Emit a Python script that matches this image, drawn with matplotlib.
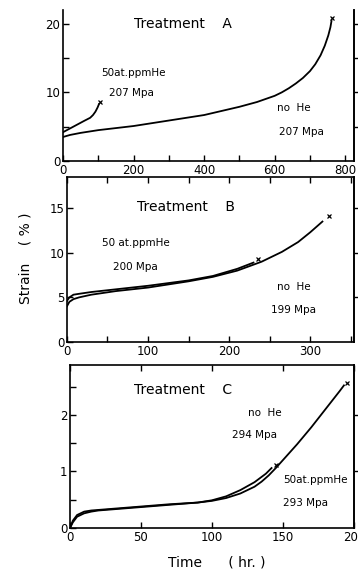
"""
Creep strain vs time for three treatments, with and without 50 at.ppm He.
Redrawn from a scanned figure.
"""

import numpy as np
import matplotlib
matplotlib.use('Agg')
import matplotlib.pyplot as plt

### Data (time in hr, strain in %)
a_nohe_t = [0, 20, 50, 100, 150, 200, 250, 300, 350, 400, 450, 500, 550, 600,
            620, 640, 660, 680, 700, 715, 730, 742, 752, 758, 761]
a_nohe_s = [3.5, 3.8, 4.1, 4.5, 4.8, 5.1, 5.5, 5.9, 6.3, 6.7, 7.3, 7.9, 8.6, 9.5,
            10.0, 10.6, 11.3, 12.1, 13.1, 14.1, 15.4, 16.8, 18.3, 19.5, 20.4]
a_nohe_end = (763, 20.9)
a_he_t = [0, 20, 40, 60, 77, 85, 92, 98, 102]
a_he_s = [4.2, 4.75, 5.3, 5.85, 6.3, 6.7, 7.2, 7.8, 8.3]
a_he_end = (105, 8.6)

b_nohe_t = [0, 3, 8, 15, 30, 60, 100, 150, 180, 210, 240, 265, 285, 300, 315]
b_nohe_s = [4.0, 4.5, 4.8, 5.0, 5.3, 5.7, 6.1, 6.8, 7.3, 8.0, 9.0, 10.1, 11.2,
            12.3, 13.5]
b_nohe_end = (323, 14.1)
b_he_t = [0, 3, 8, 15, 30, 60, 100, 150, 180, 210, 230]
b_he_s = [4.6, 5.0, 5.3, 5.4, 5.6, 5.9, 6.3, 6.9, 7.4, 8.2, 8.9]
b_he_end = (236, 9.3)

c_nohe_t = [0, 2, 5, 10, 15, 20, 30, 50, 70, 90, 100, 110, 120, 130, 135, 140,
            145, 150, 160, 170, 180, 190, 193]
c_nohe_s = [0, 0.1, 0.2, 0.26, 0.29, 0.31, 0.33, 0.37, 0.41, 0.45, 0.48, 0.53,
            0.61, 0.73, 0.82, 0.93, 1.06, 1.2, 1.48, 1.78, 2.1, 2.42, 2.52]
c_nohe_end = (195, 2.56)
c_he_t = [0, 2, 5, 10, 15, 20, 30, 50, 70, 90, 100, 110, 120, 130, 138, 142]
c_he_s = [0, 0.13, 0.23, 0.29, 0.31, 0.32, 0.34, 0.38, 0.42, 0.45, 0.49, 0.56,
          0.67, 0.81, 0.96, 1.06]
c_he_end = (145, 1.12)

plt.rc('font', family='DejaVu Sans')

fig = plt.figure(figsize=(3.58, 5.69), dpi=100)

def style_axes(ax, xlim, ylim, xmaj, xmin, ymaj, ymin, rticks, top=True):
    ax.set_xlim(xlim)
    ax.set_ylim(ylim)
    ax.set_xticks(xmaj)
    ax.set_xticks(xmin, minor=True)
    ax.set_yticks(ymaj)
    ax.set_yticks(ymin, minor=True)
    ax.tick_params(which='both', direction='in', labelsize=8.5, width=1,
                   top=top, right=False, pad=2, length=4)
    for loc, sp in ax.spines.items():
        sp.set_linewidth(1.2)
    ax.spines['top'].set_visible(top)
    ### right side ticks point outward
    ax2 = ax.twinx()
    ax2.set_ylim(ylim)
    ax2.set_yticks(rticks)
    ax2.tick_params(direction='out', length=4, width=1, labelright=False)
    ax2.spines['right'].set_linewidth(1.2)
    for loc in ['top', 'left', 'bottom']:
        ax2.spines[loc].set_visible(False)
    return ax

def draw(ax, t, s, end):
    ax.plot(t, s, color='k', linewidth=1.3)
    ax.plot(end[0], end[1], marker='x', color='k', markersize=3, mew=0.9)

fs = 7.5

### Treatment A
ax = fig.add_axes([0.176, 0.717, 0.813, 0.2654])
style_axes(ax, (0, 825), (0, 22), np.arange(0, 801, 200), np.arange(100, 801, 200),
           [0, 10, 20], [5, 15], [5, 10, 15, 20], top=False)
draw(ax, a_nohe_t, a_nohe_s, a_nohe_end)
draw(ax, a_he_t, a_he_s, a_he_end)
ax.text(340, 19.9, 'Treatment    A', fontsize=10, ha='center', va='center')
ax.text(201, 12.8, '50at.ppmHe', fontsize=fs, ha='center', va='center')
ax.text(193, 9.9, '207 Mpa', fontsize=fs, ha='center', va='center')
ax.text(655, 7.7, 'no  He', fontsize=fs, ha='center', va='center')
ax.text(675, 4.2, '207 Mpa', fontsize=fs, ha='center', va='center')

### Treatment B
ax = fig.add_axes([0.187, 0.399, 0.802, 0.29])
style_axes(ax, (0, 354), (0, 18.5), [0, 100, 200, 300], [50, 150, 250, 350],
           [0, 5, 10, 15], [], [5, 10, 15])
draw(ax, b_nohe_t, b_nohe_s, b_nohe_end)
draw(ax, b_he_t, b_he_s, b_he_end)
ax.text(147, 15.1, 'Treatment    B', fontsize=10, ha='center', va='center')
ax.text(85, 11.1, '50 at.ppmHe', fontsize=fs, ha='center', va='center')
ax.text(84, 8.4, '200 Mpa', fontsize=fs, ha='center', va='center')
ax.text(280, 6.2, 'no  He', fontsize=fs, ha='center', va='center')
ax.text(279, 3.6, '199 Mpa', fontsize=fs, ha='center', va='center')

### Treatment C
ax = fig.add_axes([0.1955, 0.072, 0.793, 0.2865])
style_axes(ax, (0, 200), (0, 2.88), [0, 50, 100, 150, 200], [],
           [0, 1, 2], [0.5, 1.5, 2.5], [1, 2])
draw(ax, c_nohe_t, c_nohe_s, c_nohe_end)
draw(ax, c_he_t, c_he_s, c_he_end)
ax.text(80, 2.44, 'Treatment    C', fontsize=10, ha='center', va='center')
ax.text(137, 2.04, 'no  He', fontsize=fs, ha='center', va='center')
ax.text(130, 1.65, '294 Mpa', fontsize=fs, ha='center', va='center')
ax.text(173, 0.85, '50at.ppmHe', fontsize=fs, ha='center', va='center')
ax.text(166, 0.44, '293 Mpa', fontsize=fs, ha='center', va='center')

fig.text(0.07, 0.547, 'Strain    ( % )', rotation=90, fontsize=10,
         ha='center', va='center')
fig.text(0.606, 0.012, 'Time      ( hr. )', fontsize=10, ha='center', va='center')

plt.savefig('out.png', dpi=100)
